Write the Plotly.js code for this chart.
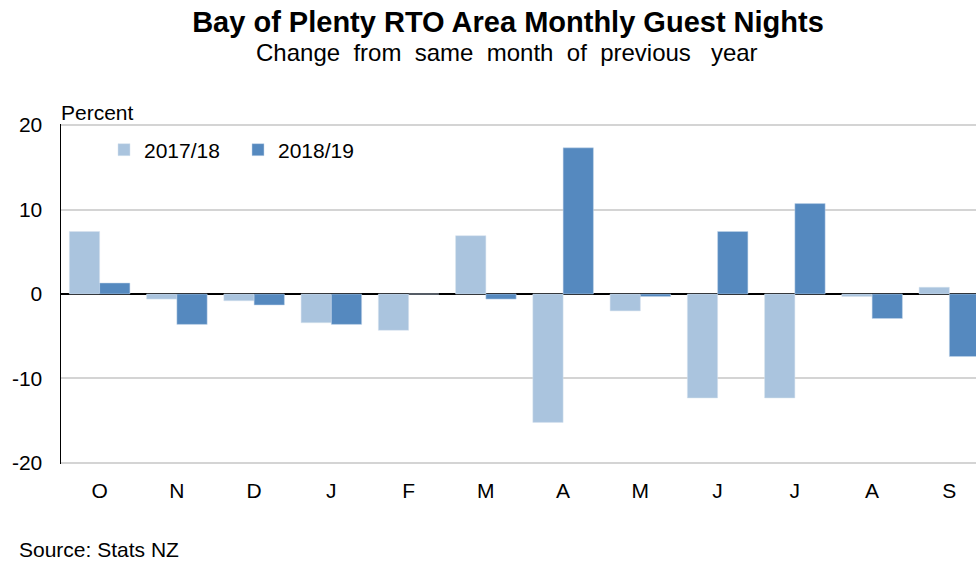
<!DOCTYPE html>
<html>
<head>
<meta charset="utf-8">
<script src="https://cdn.plot.ly/plotly-3.0.1.min.js"></script>
<style>html,body{margin:0;padding:0;background:#fff}#chart{width:976px;height:563px}</style>
</head>
<body>
<div id="chart"></div>
<script>
const months = ["O","N","D","J","F","M","A","M","J","J","A","S"];
const series1Name = "2017/18";
const series2Name = "2018/19";
const series1 = [7.4, -0.6, -0.8, -3.4, -4.3, 6.9, -15.2, -2.0, -12.3, -12.3, -0.3, 0.8];
const series2 = [1.3, -3.6, -1.3, -3.6, 0.0, -0.6, 17.3, -0.3, 7.4, 10.7, -2.9, -7.4];
const yTicks = [-20, -10, 0, 10, 20];

const pos = months.map((m, i) => i);
const font = "Liberation Sans, Arial, sans-serif";

const traces = [
  {type: "bar", x: pos, y: series1, name: series1Name,
   marker: {color: "#aac4de", line: {color: "#d6e2ef", width: 0.5}}},
  {type: "bar", x: pos, y: series2, name: series2Name,
   marker: {color: "#5589bf", line: {color: "#c5d6ea", width: 0.5}}}
];

const layout = {
  width: 976, height: 563,
  margin: {l: 61, r: 0, t: 124, b: 99},
  paper_bgcolor: "#fff", plot_bgcolor: "#fff",
  font: {family: font, size: 21, color: "#000"},
  barmode: "group", bargap: 0.216, bargroupgap: 0,
  showlegend: true,
  legend: {orientation: "h", x: 0.047, y: 1 - (150 - 124) / 340, xanchor: "left", yanchor: "middle",
           font: {family: font, size: 21, color: "#000"}, bgcolor: "rgba(0,0,0,0)",
           entrywidth: 89, entrywidthmode: "pixels", traceorder: "normal"},
  title: {text: "<b>Bay of Plenty RTO Area Monthly Guest Nights</b>",
          font: {family: font, size: 29, color: "#000"},
          xref: "container", yref: "container", x: 508/976, xanchor: "center",
          y: 1 - 22/563, yanchor: "middle"},
  xaxis: {range: [-0.5, 11.5 - 12/77.3], tickmode: "array", tickvals: pos, ticktext: months,
          showgrid: false, zeroline: false, showline: false, ticks: "",
          ticklabelstandoff: 12, tickfont: {family: font, size: 21, color: "#000"}, fixedrange: true},
  yaxis: {range: [-20.12, 20.12], tickmode: "array", tickvals: yTicks, ticktext: yTicks.map(String),
          showgrid: true, gridcolor: "#d4d4d4", gridwidth: 2,
          zeroline: true, zerolinecolor: "#000", zerolinewidth: 1.5,
          showline: true, linecolor: "#000", linewidth: 1.5, ticks: "",
          ticklabelstandoff: 13, tickfont: {family: font, size: 21, color: "#000"}, fixedrange: true},
  annotations: [
    {text: "Change  from  same  month  of  previous   year", xref: "paper", yref: "paper",
     x: (507 - 61) / 915, y: 1 + (124 - 52) / 340, xanchor: "center", yanchor: "middle",
     showarrow: false, font: {family: font, size: 24, color: "#000"}},
    {text: "Percent", xref: "paper", yref: "paper", x: (59 - 61) / 915, y: 1 + (124 - 113) / 340,
     xanchor: "left", yanchor: "middle", showarrow: false,
     font: {family: font, size: 21, color: "#000"}},
    {text: "Source: Stats NZ", xref: "paper", yref: "paper", x: (17 - 61) / 915,
     y: -(549 - 464) / 340, xanchor: "left", yanchor: "middle", showarrow: false,
     font: {family: font, size: 21, color: "#000"}}
  ]
};

Plotly.newPlot("chart", traces, layout, {displayModeBar: false, staticPlot: true});
</script>
</body>
</html>
